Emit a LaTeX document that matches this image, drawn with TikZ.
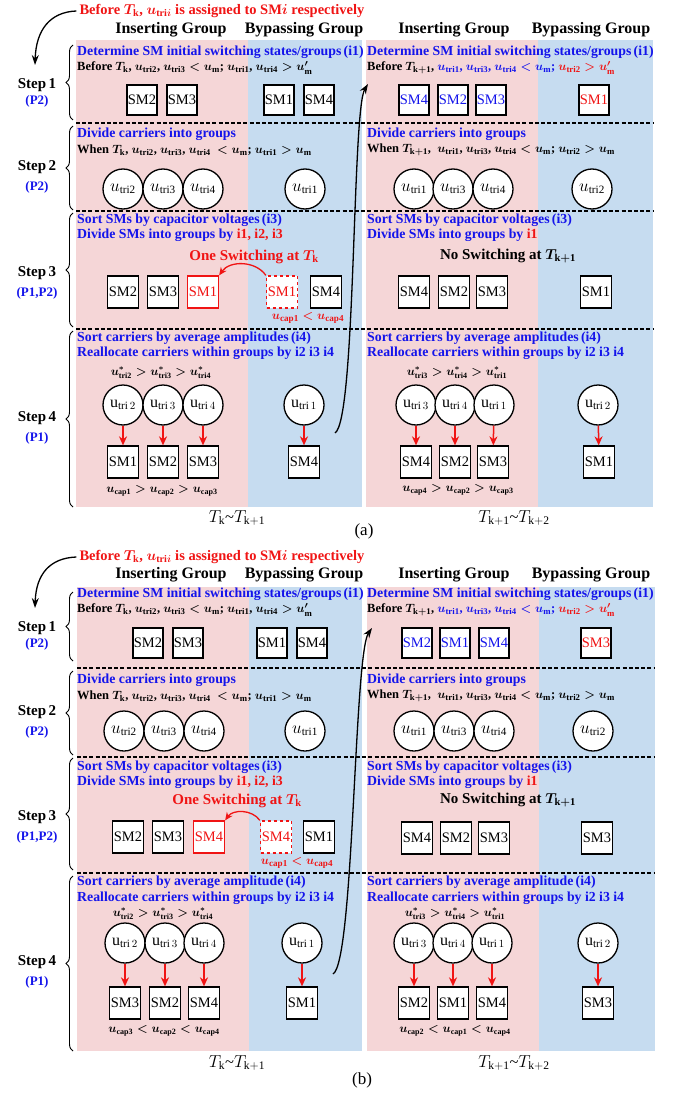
\documentclass[tikz,border=0pt]{standalone}
\usepackage{fontspec}
\setmainfont{Liberation Serif}
\usepackage{amsmath}
\usetikzlibrary{arrows.meta,decorations.pathreplacing}
\definecolor{pinkbg}{RGB}{245,214,215}
\definecolor{bluebg}{RGB}{198,220,240}
\definecolor{tblue}{RGB}{20,20,235}
\definecolor{tred}{RGB}{240,20,20}
\newcommand{\ut}[1]{u_{\mathrm{tri#1}}}
\newcommand{\uu}[1]{\mathrm{u}_{\mathrm{tri}\,#1}}
\newcommand{\us}[1]{u^{*}_{\mathrm{tri#1}}}
\newcommand{\uc}[1]{u_{\mathrm{cap#1}}}
\newcommand{\Tk}{T_{\mathrm{k}}}
\newcommand{\Tkk}{T_{\mathrm{k+1}}}
\newcommand{\Tkkk}{T_{\mathrm{k+2}}}
\tikzset{
  smbox/.style={draw, line width=1.3pt, fill=white, minimum width=31pt, minimum height=32pt, inner sep=0pt, font=\fontsize{14.5}{14.5}\selectfont},
  smsmall/.style={smbox, minimum width=30pt, minimum height=30pt},
  tri/.style={circle, draw, line width=1.3pt, fill=white, minimum size=40pt, inner sep=0pt, font=\fontsize{16}{16}\selectfont},
  ttl/.style={anchor=west, inner sep=0pt, text=tblue, font=\bfseries\fontsize{13.8}{13.8}\selectfont},
  ln/.style={anchor=west, inner sep=0pt, font=\bfseries\boldmath\fontsize{12.5}{12.5}\selectfont},
  hdr/.style={inner sep=0pt, font=\bfseries\fontsize{16}{16}\selectfont},
  toptxt/.style={inner sep=0pt, text=tred, font=\bfseries\boldmath\fontsize{14.5}{14.5}\selectfont},
  steplbl/.style={inner sep=0pt, font=\bfseries\fontsize{15}{15}\selectfont},
  plbl/.style={inner sep=0pt, text=tblue, font=\bfseries\fontsize{13}{13}\selectfont},
  cmp/.style={inner sep=0pt, font=\bfseries\boldmath\fontsize{11.5}{11.5}\selectfont},
  swtxt/.style={inner sep=0pt, font=\bfseries\boldmath\fontsize{15}{15}\selectfont},
  capred/.style={inner sep=0pt, text=tred, font=\bfseries\boldmath\fontsize{13}{13}\selectfont},
  tlbl/.style={inner sep=0pt, font=\fontsize{16.5}{16.5}\selectfont},
  figlbl/.style={inner sep=0pt, font=\fontsize{17}{17}\selectfont},
  sep/.style={line width=1.2pt, dash pattern=on 4pt off 2.2pt},
  brc/.style={decorate, decoration={brace, amplitude=7pt}, line width=0.9pt},
  redarr/.style={tred, line width=1.5pt, -{Stealth[length=9pt,width=8pt]}},
  redcurve/.style={tred, line width=1.3pt, -{Stealth[length=8pt,width=7pt]}},
  longarr/.style={line width=1.3pt, -{Stealth[length=10pt,width=7pt]}},
  redsm/.style={smbox, draw=tred, text=tred},
}
\begin{document}
\begin{tikzpicture}[x=1pt, y=-1pt]
\useasboundingbox (0,0) rectangle (680,1094);
% ================= (a) =================
\begin{scope}
\fill[pinkbg] (76,40) rectangle (248,507);
\fill[bluebg] (248,40) rectangle (362,507);
\fill[pinkbg] (366,40) rectangle (538,507);
\fill[bluebg] (538,40) rectangle (653,507);
\draw[sep] (76,123) -- (653,123);
\draw[sep] (76,211) -- (653,211);
\draw[sep] (76,329) -- (653,329);
\node[toptxt] (atop) at (222,11) {Before $\Tk$, $u_{\mathrm{tri}i}$ is assigned to SM$i$ respectively};
\node[hdr] (ah1) at (171,30) {Inserting Group};
\node[hdr] (ah2) at (304,30) {Bypassing Group};
\node[hdr] (ah3) at (454,30) {Inserting Group};
\node[hdr] (ah4) at (591,30) {Bypassing Group};
% step labels
\node[steplbl] (as1) at (37,85) {Step\,1};
\node[plbl] (ap1) at (37,101) {(P2)};
\node[steplbl] (as2) at (37,167) {Step\,2};
\node[plbl] (ap2) at (37,187) {(P2)};
\node[steplbl] (as3) at (37,273) {Step\,3};
\node[plbl] (ap3) at (37,293) {(P1,P2)};
\node[steplbl] (as4) at (37,418) {Step\,4};
\node[plbl] (ap4) at (37,438) {(P1)};
\draw[brc] (73,120) -- (73,45);
\draw[brc] (73,210) -- (73,126);
\draw[brc] (73,327) -- (73,213);
\draw[brc] (73,507) -- (73,331);
\coordinate (atopend) at (35,65);
\draw[longarr] ([xshift=-3pt]atop.west) .. controls (50,12) and (36,30) .. (atopend);
% step 1
\node[ttl] (a1t) at (77,52) {Determine SM initial switching states/groups\,(i1)};
\node[ln] (a1l) at (77,68) {Before $\Tk$, $\ut2$, $\ut3<u_{\mathrm m}$; $\ut1$, $\ut4>u'_{\mathrm m}$};
\node[smsmall] (a1b2) at (142,100) {SM2};
\node[smsmall] (a1b3) at (182,100) {SM3};
\node[smsmall] (a1b1) at (279,100) {SM1};
\node[smsmall] (a1b4) at (319,100) {SM4};
\node[ttl] (a1tr) at (367,52) {Determine SM initial switching states/groups\,(i1)};
\node[ln] (a1lr) at (367,68) {Before $T_{\mathrm{k+1}}$, \textcolor{tblue}{$\ut1$, $\ut3$, $\ut4<u_{\mathrm m}$;} \textcolor{tred}{$\ut2>u'_{\mathrm m}$}};
\node[smsmall, text=tblue] (a1r4) at (414,100) {SM4};
\node[smsmall, text=tblue] (a1r2) at (453,100) {SM2};
\node[smsmall, text=tblue] (a1r3) at (491,100) {SM3};
\node[smsmall, text=tred] (a1r1) at (594,100) {SM1};
% step 2
\node[ttl] (a2t) at (77,134) {Divide carriers into groups};
\node[ln] (a2l) at (77,150) {When $\Tk$, $\ut2$, $\ut3$, $\ut4$ \ $<u_{\mathrm m}$; $\ut1>u_{\mathrm m}$};
\node[tri] (a2c2) at (123,189) {$\ut2$};
\node[tri] (a2c3) at (163,189) {$\ut3$};
\node[tri] (a2c4) at (203,189) {$\ut4$};
\node[tri] (a2c1) at (305,189) {$\ut1$};
\node[ttl] (a2tr) at (367,134) {Divide carriers into groups};
\node[ln] (a2lr) at (367,150) {When $\Tkk$, \ $\ut1$, $\ut3$, $\ut4<u_{\mathrm m}$; $\ut2>u_{\mathrm m}$};
\node[tri] (a2r1) at (414,189) {$\ut1$};
\node[tri] (a2r3) at (453,189) {$\ut3$};
\node[tri] (a2r4) at (493,189) {$\ut4$};
\node[tri] (a2r2) at (592,189) {$\ut2$};
% step 3
\node[ttl] (a3t) at (77,220) {Sort SMs by capacitor voltages\,(i3)};
\node[ttl] (a3l) at (77,235) {Divide SMs into groups by \textcolor{tred}{i1, i2, i3}};
\node[swtxt, text=tred] (a3sw) at (254,257) {One Switching at $\Tk$};
\node[smbox] (a3b2) at (123,292) {SM2};
\node[smbox] (a3b3) at (163,292) {SM3};
\node[redsm] (a3b1) at (203,292) {SM1};
\node[redsm, dashed] (a3d1) at (282,292) {SM1};
\node[smbox] (a3b4) at (326,292) {SM4};
\node[capred] (a3cap) at (308,318) {$\uc1<\uc4$};
\draw[redcurve] (a3d1.north west) to[bend right=55] (a3b1.north east);
\node[ttl] (a3tr) at (367,220) {Sort SMs by capacitor voltages\,(i3)};
\node[ttl] (a3lr) at (367,235) {Divide SMs into groups by \textcolor{tred}{i1}};
\node[swtxt] (a3swr) at (508,256) {No Switching at $\Tkk$};
\node[smbox] (a3r4) at (414,292) {SM4};
\node[smbox] (a3r2) at (454,292) {SM2};
\node[smbox] (a3r3) at (492,292) {SM3};
\node[smbox] (a3r1) at (596,292) {SM1};
% step 4
\node[ttl] (a4t) at (77,338) {Sort carriers by average amplitudes\,(i4)};
\node[ttl] (a4l) at (77,353) {Reallocate carriers within groups by i2 i3 i4};
\node[cmp] (a4s) at (161,373) {$\us2>\us3>\us4$};
\node[tri] (a4c2) at (123,405) {$\uu2$};
\node[tri] (a4c3) at (163,405) {$\uu3$};
\node[tri] (a4c4) at (203,405) {$\uu4$};
\node[tri] (a4c1) at (304,405) {$\uu1$};
\node[smbox] (a4b1) at (123,462) {SM1};
\node[smbox] (a4b2) at (163,462) {SM2};
\node[smbox] (a4b3) at (203,462) {SM3};
\node[smbox] (a4b4) at (304,462) {SM4};
\draw[redarr] (a4c2) -- (a4b1);
\draw[redarr] (a4c3) -- (a4b2);
\draw[redarr] (a4c4) -- (a4b3);
\draw[redarr] (a4c1) -- (a4b4);
\node[cmp] (a4cap) at (162,491) {$\uc1>\uc2>\uc3$};
\node[ttl] (a4tr) at (367,338) {Sort carriers by average amplitudes\,(i4)};
\node[ttl] (a4lr) at (367,353) {Reallocate carriers within groups by i2 i3 i4};
\node[cmp] (a4sr) at (457,373) {$\us3>\us4>\us1$};
\node[tri] (a4r3) at (416,405) {$\uu3$};
\node[tri] (a4r4) at (455,405) {$\uu4$};
\node[tri] (a4r1) at (494,405) {$\uu1$};
\node[tri] (a4r2) at (598,405) {$\uu2$};
\node[smbox] (a4q4) at (416,462) {SM4};
\node[smbox] (a4q2) at (455,462) {SM2};
\node[smbox] (a4q3) at (493,462) {SM3};
\node[smbox] (a4q1) at (599,462) {SM1};
\draw[redarr] (a4r3) -- (a4q4);
\draw[redarr] (a4r4) -- (a4q2);
\draw[redarr] (a4r1) -- (a4q3);
\draw[redarr] (a4r2) -- (a4q1);
\node[cmp] (a4capr) at (458,490) {$\uc4>\uc2>\uc3$};
\coordinate (alongs) at (335,433);
\coordinate (alonge) at (368,84);
\draw[longarr] (alongs) .. controls (356,420) and (352,110) .. (alonge);
\node[tlbl] (atl) at (237,518) {$\Tk$\textasciitilde$\Tkk$};
\node[tlbl] (atr) at (514,518) {$\Tkk$\textasciitilde$\Tkkk$};
\node[figlbl] (afig) at (364,531) {(a)};
\end{scope}
% ================= (b) =================
\begin{scope}[yshift=-544pt]
\fill[pinkbg] (77,43) rectangle (249,507);
\fill[bluebg] (249,43) rectangle (362,507);
\fill[pinkbg] (367,43) rectangle (539,507);
\fill[bluebg] (539,43) rectangle (655,507);
\draw[sep] (77,124) -- (655,124);
\draw[sep] (77,213) -- (655,213);
\draw[sep] (77,329) -- (655,329);
\node[toptxt] (btop) at (222,13) {Before $\Tk$, $u_{\mathrm{tri}i}$ is assigned to SM$i$ respectively};
\node[hdr] (bh1) at (171,31) {Inserting Group};
\node[hdr] (bh2) at (304,31) {Bypassing Group};
\node[hdr] (bh3) at (454,31) {Inserting Group};
\node[hdr] (bh4) at (591,31) {Bypassing Group};
\node[steplbl] (bs1) at (37,84) {Step\,1};
\node[plbl] (bp1) at (37,100) {(P2)};
\node[steplbl] (bs2) at (37,168) {Step\,2};
\node[plbl] (bp2) at (37,188) {(P2)};
\node[steplbl] (bs3) at (37,273) {Step\,3};
\node[plbl] (bp3) at (37,293) {(P1,P2)};
\node[steplbl] (bs4) at (37,418) {Step\,4};
\node[plbl] (bp4) at (37,438) {(P1)};
\draw[brc] (73,117) -- (73,48);
\draw[brc] (73,211) -- (73,127);
\draw[brc] (73,326) -- (73,214);
\draw[brc] (73,507) -- (73,332);
\coordinate (btopend) at (35,64);
\draw[longarr] ([xshift=-3pt]btop.west) .. controls (50,14) and (36,30) .. (btopend);
% step 1
\node[ttl] (b1t) at (77,50) {Determine SM initial switching states/groups\,(i1)};
\node[ln] (b1l) at (77,66) {Before $\Tk$, $\ut2$, $\ut3<u_{\mathrm m}$; $\ut1$, $\ut4>u'_{\mathrm m}$};
\node[smsmall] (b1b2) at (148,99) {SM2};
\node[smsmall] (b1b3) at (188,99) {SM3};
\node[smsmall] (b1b1) at (272,99) {SM1};
\node[smsmall] (b1b4) at (312,99) {SM4};
\node[ttl] (b1tr) at (367,50) {Determine SM initial switching states/groups\,(i1)};
\node[ln] (b1lr) at (367,66) {Before $\Tkk$, \textcolor{tblue}{$\ut1$, $\ut3$, $\ut4<u_{\mathrm m}$;} \textcolor{tred}{$\ut2>u'_{\mathrm m}$}};
\node[smsmall, text=tblue] (b1r2) at (417,99) {SM2};
\node[smsmall, text=tblue] (b1r1) at (455,99) {SM1};
\node[smsmall, text=tblue] (b1r4) at (494,99) {SM4};
\node[smsmall, text=tred] (b1r3) at (596,99) {SM3};
% step 2
\node[ttl] (b2t) at (77,136) {Divide carriers into groups};
\node[ln] (b2l) at (77,152) {When $\Tk$, $\ut2$, $\ut3$, $\ut4$ \ $<u_{\mathrm m}$; $\ut1>u_{\mathrm m}$};
\node[tri] (b2c2) at (124,187) {$\ut2$};
\node[tri] (b2c3) at (164,187) {$\ut3$};
\node[tri] (b2c4) at (204,187) {$\ut4$};
\node[tri] (b2c1) at (305,187) {$\ut1$};
\node[ttl] (b2tr) at (367,136) {Divide carriers into groups};
\node[ln] (b2lr) at (367,152) {When $\Tkk$, \ $\ut1$, $\ut3$, $\ut4<u_{\mathrm m}$; $\ut2>u_{\mathrm m}$};
\node[tri] (b2r1) at (414,187) {$\ut1$};
\node[tri] (b2r3) at (454,187) {$\ut3$};
\node[tri] (b2r4) at (494,187) {$\ut4$};
\node[tri] (b2r2) at (593,187) {$\ut2$};
% step 3
\node[ttl] (b3t) at (77,223) {Sort SMs by capacitor voltages\,(i3)};
\node[ttl] (b3l) at (77,238) {Divide SMs into groups by \textcolor{tred}{i1, i2, i3}};
\node[swtxt, text=tred] (b3sw) at (237,257) {One Switching at $\Tk$};
\node[smbox] (b3b2) at (128,293) {SM2};
\node[smbox] (b3b3) at (168,293) {SM3};
\node[redsm] (b3b4) at (209,293) {SM4};
\node[redsm, dashed] (b3d4) at (276,293) {SM4};
\node[smbox] (b3b1) at (319,293) {SM1};
\node[capred] (b3cap) at (297,319) {$\uc1<\uc4$};
\draw[redcurve] (b3d4.north west) to[bend right=55] (b3b4.north east);
\node[ttl] (b3tr) at (367,223) {Sort SMs by capacitor voltages\,(i3)};
\node[ttl] (b3lr) at (367,238) {Divide SMs into groups by \textcolor{tred}{i1}};
\node[swtxt] (b3swr) at (508,256) {No Switching at $\Tkk$};
\node[smbox] (b3r4) at (417,294) {SM4};
\node[smbox] (b3r2) at (456,294) {SM2};
\node[smbox] (b3r3) at (494,294) {SM3};
\node[smbox] (b3r3b) at (597,294) {SM3};
% step 4
\node[ttl] (b4t) at (77,338) {Sort carriers by average amplitude\,(i4)};
\node[ttl] (b4l) at (77,354) {Reallocate carriers within groups by i2 i3 i4};
\node[cmp] (b4s) at (163,370) {$\us2>\us3>\us4$};
\node[tri] (b4c2) at (125,399) {$\uu2$};
\node[tri] (b4c3) at (165,399) {$\uu3$};
\node[tri] (b4c4) at (204,399) {$\uu4$};
\node[tri] (b4c1) at (302,399) {$\uu1$};
\node[smbox] (b4b3) at (125,459) {SM3};
\node[smbox] (b4b2) at (165,459) {SM2};
\node[smbox] (b4b4) at (204,459) {SM4};
\node[smbox] (b4b1) at (302,459) {SM1};
\draw[redarr] (b4c2) -- (b4b3);
\draw[redarr] (b4c3) -- (b4b2);
\draw[redarr] (b4c4) -- (b4b4);
\draw[redarr] (b4c1) -- (b4b1);
\node[cmp] (b4cap) at (164,487) {$\uc3<\uc2<\uc4$};
\node[ttl] (b4tr) at (367,338) {Sort carriers by average amplitude\,(i4)};
\node[ttl] (b4lr) at (367,354) {Reallocate carriers within groups by i2 i3 i4};
\node[cmp] (b4sr) at (455,370) {$\us3>\us4>\us1$};
\node[tri] (b4r3) at (414,399) {$\uu3$};
\node[tri] (b4r4) at (453,399) {$\uu4$};
\node[tri] (b4r1) at (492,399) {$\uu1$};
\node[tri] (b4r2) at (598,399) {$\uu2$};
\node[smbox] (b4q2) at (414,459) {SM2};
\node[smbox] (b4q1) at (453,459) {SM1};
\node[smbox] (b4q4) at (492,459) {SM4};
\node[smbox] (b4q3) at (598,459) {SM3};
\draw[redarr] (b4r3) -- (b4q2);
\draw[redarr] (b4r4) -- (b4q1);
\draw[redarr] (b4r1) -- (b4q4);
\draw[redarr] (b4r2) -- (b4q3);
\node[cmp] (b4capr) at (455,487) {$\uc2<\uc1<\uc4$};
\coordinate (blongs) at (333,430);
\coordinate (blonge) at (372,84);
\draw[longarr] (blongs) .. controls (354,418) and (354,110) .. (blonge);
\node[tlbl] (btl) at (237,519) {$\Tk$\textasciitilde$\Tkk$};
\node[tlbl] (btr) at (514,519) {$\Tkk$\textasciitilde$\Tkkk$};
\node[figlbl] (bfig) at (362,536) {(b)};
\end{scope}
\end{tikzpicture}
\end{document}
